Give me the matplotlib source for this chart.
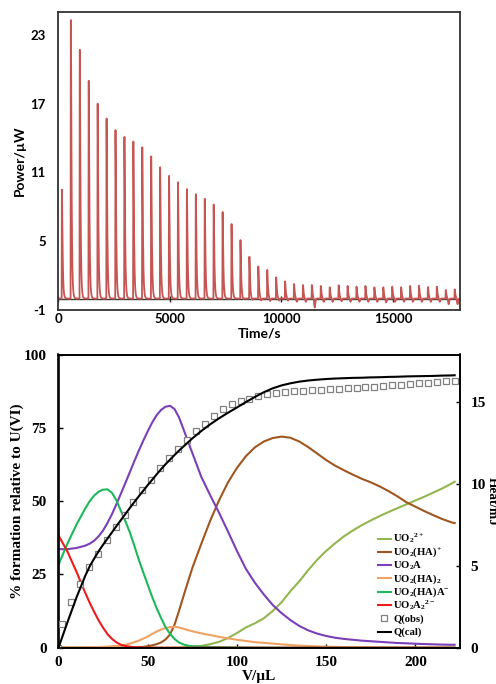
import numpy as np
import matplotlib
matplotlib.use("Agg")
import matplotlib.pyplot as plt
from matplotlib.font_manager import FontProperties
from matplotlib.lines import Line2D

# ---------------- thermogram (top panel) ----------------
first_injection_s = 150
injection_interval_s = 400
peak_heights = [9.5, 24.3, 21.7, 19.0, 17.0, 15.7, 14.7, 14.1, 13.7, 13.2,
                12.4, 11.45, 10.7, 10.15, 9.55, 9.1, 8.7, 8.2, 7.55, 6.5,
                5.1, 3.65, 2.8, 2.5, 1.85, 1.5, 1.27, 1.18, 1.18, 1.1,
                0.98, 1.16, 1.1, 1.04, 1.1, 0.98, 0.98, 1.04, 0.98, 1.1,
                1.12, 1.0, 1.04, 0.75, 0.8]
undershoots = [0, 0, 0, 0, 0, 0, 0, 0, 0, 0,
               0, 0, 0, 0, 0, 0, 0, 0, 0, 0,
               0.1, 0.15, 0.2, 0.25, 0.2, 0.2, 0.3, 0.3, 0.8, 0.3,
               0.3, 0.25, 0.3, 0.3, 0.3, 0.3, 0.35, 0.3, 0.3, 0.3,
               0.3, 0.3, 0.3, 0.5, 0.5]
time_ticks = [0, 5000, 10000, 15000]
power_ticks = [-1, 5, 11, 17, 23]

# ---------------- speciation / heat (bottom panel) ----------------
V_fit = [0, 5, 10, 15, 17.5, 20, 22.5, 25, 27.5, 30, 32.5, 35, 37.5, 40, 42.5,
         45, 47.5, 50, 52.5, 55, 57.5, 60, 62.5, 65, 67.5, 70, 72.5, 75,
         80, 85, 90, 95, 100, 105, 110, 115, 120, 125, 130, 135, 140, 145, 150,
         155, 160, 165, 170, 175, 180, 185, 190, 195, 200, 205, 210, 215, 220, 222]
UO2 = [0, 0, 0, 0, 0, 0, 0, 0, 0, 0, 0, 0, 0, 0, 0,
       0, 0, 0, 0, 0, 0, 0, 0, 0, 0, 0.1, 0.2, 0.3,
       0.6, 1.2, 2.0, 3.3, 5.0, 6.9, 8.3, 10.0, 12.5, 15.5, 19.3, 22.7, 26.5, 30.0, 33.0,
       35.6, 38.0, 40.0, 41.8, 43.4, 44.9, 46.3, 47.6, 48.9, 50.2, 51.5, 52.9, 54.3, 55.9, 56.6]
UO2HA = [0, 0, 0, 0, 0, 0, 0, 0, 0.02, 0.03, 0.04, 0.05, 0.07, 0.1, 0.14,
         0.2, 0.3, 0.5, 0.8, 1.2, 1.8, 2.8, 4.5, 7.8, 12.5, 17.5, 22.4, 27.2,
         35.4, 43.3, 50.3, 56.4, 61.3, 65.3, 68.3, 70.3, 71.5, 72.0, 71.6, 70.3, 68.4, 66.2, 64.0,
         62.1, 60.5, 59.0, 57.6, 56.4, 55.0, 53.4, 51.6, 49.6, 48.1, 46.6, 45.2, 43.9, 42.8, 42.5]
UO2A = [33.6, 33.6, 34.0, 34.8, 35.5, 36.5, 38.0, 40.0, 42.6, 45.6, 49.0, 52.6, 56.2, 59.9, 63.6,
        67.2, 70.6, 73.8, 76.8, 79.3, 81.1, 82.2, 82.5, 81.4, 78.6, 74.6, 70.5, 66.4,
        58.3, 52.0, 46.0, 39.6, 33.0, 26.9, 22.2, 18.2, 14.6, 11.8, 9.4, 7.4, 5.9, 4.8, 4.0,
        3.4, 3.0, 2.7, 2.4, 2.2, 2.0, 1.8, 1.6, 1.5, 1.35, 1.25, 1.15, 1.05, 1.0, 1.0]
UO2HA2 = [0, 0.02, 0.05, 0.1, 0.15, 0.2, 0.25, 0.3, 0.4, 0.5, 0.6, 0.75, 1.0, 1.4, 1.9,
          2.4, 3.1, 3.8, 4.7, 5.5, 6.2, 6.7, 7.0, 7.1, 6.9, 6.5, 6.0, 5.6,
          4.9, 4.3, 3.7, 3.2, 2.7, 2.3, 1.9, 1.65, 1.4, 1.15, 0.9, 0.72, 0.57, 0.45, 0.35,
          0.28, 0.22, 0.18, 0.15, 0.12, 0.1, 0.08, 0.07, 0.06, 0.05, 0.04, 0.03, 0.03, 0.02, 0.02]
UO2HAA = [28.3, 35.5, 41.9, 47.5, 50.0, 51.9, 53.2, 53.9, 54.0, 52.8, 50.2, 46.6, 43.1, 39.3, 34.8,
          30.0, 25.7, 21.5, 17.3, 13.5, 10.1, 7.0, 4.7, 3.0, 1.8, 1.1, 0.7, 0.5,
          0.35, 0.25, 0.2, 0.15, 0.1, 0.08, 0.05, 0.04, 0.03, 0.02, 0.02, 0.01, 0.01, 0, 0,
          0, 0, 0, 0, 0, 0, 0, 0, 0, 0, 0, 0, 0, 0, 0]
UO2A2 = [38.3, 32.8, 26.0, 18.7, 15.3, 12.2, 9.3, 6.8, 4.6, 3.0, 1.8, 1.0, 0.6, 0.35, 0.2,
         0.1, 0.05, 0.02, 0, 0, 0, 0, 0, 0, 0, 0, 0, 0,
         0, 0, 0, 0, 0, 0, 0, 0, 0, 0, 0, 0, 0, 0, 0,
         0, 0, 0, 0, 0, 0, 0, 0, 0, 0, 0, 0, 0, 0, 0]
Q_cal = [0, 1.55, 3.05, 4.4, 4.98, 5.45, 5.9, 6.3, 6.68, 7.06, 7.44, 7.81, 8.18, 8.55, 8.91,
         9.26, 9.6, 9.94, 10.27, 10.6, 10.92, 11.22, 11.5, 11.78, 12.05, 12.3, 12.55, 12.8,
         13.25, 13.66, 14.03, 14.37, 14.69, 15.02, 15.33, 15.62, 15.86, 16.04, 16.17, 16.27, 16.34, 16.39, 16.43,
         16.46, 16.48, 16.5, 16.51, 16.53, 16.54, 16.56, 16.57, 16.59, 16.6, 16.61, 16.62, 16.64, 16.65, 16.66]
V_obs = [0, 2, 7, 12, 17, 22, 27, 32, 37, 42, 47, 52, 57, 62, 67, 72, 77, 82, 87,
         92, 97, 102, 107, 112, 117, 122, 127, 132, 137, 142, 147, 152, 157, 162,
         167, 172, 177, 182, 187, 192, 197, 202, 207, 212, 217, 222]
Q_obs = [0, 1.45, 2.8, 3.9, 4.92, 5.76, 6.57, 7.37, 8.14, 8.9, 9.63, 10.28, 10.98, 11.61,
         12.18, 12.73, 13.24, 13.71, 14.16, 14.57, 14.88, 15.08, 15.22, 15.39, 15.5,
         15.58, 15.63, 15.67, 15.71, 15.74, 15.77, 15.8, 15.84, 15.87, 15.9, 15.93,
         15.97, 16.01, 16.05, 16.09, 16.13, 16.17, 16.21, 16.25, 16.28, 16.32]

species_labels = [r"UO$_2$$^{2+}$", r"UO$_2$(HA)$^{+}$", r"UO$_2$A", r"UO$_2$(HA)$_2$",
                  r"UO$_2$(HA)A$^{-}$", r"UO$_2$A$_2$$^{2-}$"]
species_colors = ["#92b650", "#a0561f", "#7b3fb8", "#f0a262", "#1db85a", "#ee1c1c"]

# ---------------- fonts ----------------
plt.rcParams["axes.unicode_minus"] = False
plt.rcParams["mathtext.fontset"] = "custom"
plt.rcParams["mathtext.rm"] = "Liberation Serif:bold"
plt.rcParams["mathtext.it"] = "Liberation Serif:bold"
plt.rcParams["mathtext.bf"] = "Liberation Serif:bold"
sans = dict(family="Lato", weight="bold")
serif = dict(family="Liberation Serif", weight="bold")

W, H = 496, 684
fig = plt.figure(figsize=(W / 100, H / 100), dpi=100)


def axes_px(left, top, right, bottom):
    return fig.add_axes([left / W, 1 - bottom / H, (right - left) / W, (bottom - top) / H])


# ================= top: thermogram =================
ax1 = axes_px(58.3, 12, 460, 310)
t = np.arange(0, 18000, 2.0)
s_kernel = np.arange(0, 400, 2.0)
kernel = (1 - np.exp(-s_kernel / 10.0)) * np.exp(-s_kernel / 28.0)
kernel /= kernel.max()
dip = np.exp(-((s_kernel - 140) / 35.0) ** 2)
power = np.zeros_like(t)
for i, (h, u) in enumerate(zip(peak_heights, undershoots)):
    i0 = int((first_injection_s + i * injection_interval_s) / 2)
    n = min(len(kernel), len(t) - i0)
    power[i0:i0 + n] += h * kernel[:n] - u * dip[:n]

ax1.axhline(0, color="#3a3a3a", lw=1.0, zorder=1)
ax1.plot(time_ticks, [0] * len(time_ticks), ls="none", marker="|", ms=4,
         color="#222222", mew=1.0, zorder=1)
ax1.plot(t, power, color="#c55653", lw=1.3, zorder=2)
ax1.set_xlim(0, 18000)
ax1.set_ylim(-1, 25)
ax1.set_xticks(time_ticks)
ax1.set_yticks(power_ticks)
ax1.tick_params(axis="x", length=0, pad=2)
ax1.tick_params(axis="y", length=0, pad=9)
for lab in ax1.get_xticklabels() + ax1.get_yticklabels():
    lab.set_fontproperties(FontProperties(size=9.5, **sans))
ax1.set_xlabel("Time/s", fontsize=10, labelpad=2, **sans)
ax1.set_ylabel("Power/\u00b5W", fontsize=10, labelpad=3, **sans)
for sp in ax1.spines.values():
    sp.set_color("#333333")
    sp.set_linewidth(1.3)

# ================= bottom: speciation and heat =================
ax2 = axes_px(58.5, 354.5, 460, 647.7)
for vals, col in zip([UO2, UO2HA, UO2A, UO2HA2, UO2HAA, UO2A2], species_colors):
    ax2.plot(V_fit, vals, color=col, lw=1.5)
ax2.set_xlim(0, 225)
ax2.set_ylim(0, 100)
ax2.set_xticks([0, 50, 100, 150, 200])
ax2.set_yticks([0, 25, 50, 75, 100])
ax2.tick_params(axis="x", direction="in", length=3, width=1, pad=6)
ax2.tick_params(axis="y", direction="in", length=3, width=1, pad=8.5)
for lab in ax2.get_xticklabels() + ax2.get_yticklabels():
    lab.set_fontproperties(FontProperties(size=11, **serif))
ax2.set_xlabel("V/\u00b5L", fontsize=11, labelpad=1, **serif)
ax2.set_ylabel("% formation relative to U(VI)", fontsize=11, labelpad=0, **serif)
for sp in ax2.spines.values():
    sp.set_linewidth(1.2)

ax3 = ax2.twinx()
ax3.plot(V_obs, Q_obs, ls="none", marker="s", ms=4.5, mfc="white",
         mec="#808080", mew=0.9)
ax3.plot(V_fit, Q_cal, color="black", lw=1.5)
ax3.set_ylim(0, 17.93)
ax3.set_yticks([0, 5, 10, 15])
ax3.tick_params(direction="in", length=3, width=1, pad=7.5)
for lab in ax3.get_yticklabels():
    lab.set_fontproperties(FontProperties(size=11, **serif))
ax3.set_ylabel("Heat/mJ", fontsize=9.5, rotation=270, va="center", **serif)
ax3.yaxis.set_label_coords(1.078, 0.5)
for sp in ax3.spines.values():
    sp.set_linewidth(1.2)

# legend drawn row by row with an even pitch
ax_left, ax_bottom, ax_w, ax_h = 58.5, 647.7, 401.5, 293.2


def to_ax(px, py):
    return (px - ax_left) / ax_w, (ax_bottom - py) / ax_h


legend_entries = [(lab, dict(color=c, lw=1.5)) for lab, c in zip(species_labels, species_colors)]
legend_entries += [("Q(obs)", dict(ls="none", marker="s", ms=4.5, mfc="white",
                                   mec="#808080", mew=0.9)),
                   ("Q(cal)", dict(color="black", lw=1.5))]
row_top_px, row_pitch_px = 538.5, 13.3
for k, (lab, style) in enumerate(legend_entries):
    yc = row_top_px + k * row_pitch_px
    x0, y0 = to_ax(378, yc)
    x1, _ = to_ax(391, yc)
    if style.get("ls") == "none":
        xs, ys = [(x0 + x1) / 2], [y0]
    else:
        xs, ys = [x0, x1], [y0, y0]
    ax3.add_line(Line2D(xs, ys, transform=ax3.transAxes, clip_on=False, **style))
    tx, ty = to_ax(393, yc + 3.4)
    ax3.text(tx, ty, lab, transform=ax3.transAxes, ha="left", va="baseline",
             fontproperties=FontProperties(size=7.7, **serif))

fig.savefig("out.png", dpi=100)
